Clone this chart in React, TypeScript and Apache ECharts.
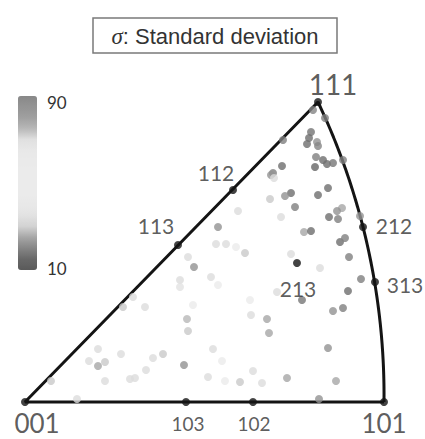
import React, { useEffect, useRef } from "react";
import * as echarts from "echarts";

// ---- data (projection units: 001 at origin, 101 on x axis) ----
const nodeNames = ["001", "103", "102", "101", "113", "112", "111", "212", "313", "213"];
const nodeX = [0, 161, 228, 359, 153, 208, 293, 338, 350, 272];
const nodeY = [0, 0, 0, 0, 157, 212, 300, 175, 120, 139];

const pointX = [
  288, 300, 258, 286, 284, 282, 292, 293, 291, 298, 302, 308, 318, 290, 257, 248, 246, 249,
  303, 293, 266, 260, 245, 270, 256, 317, 312, 304, 313, 335, 279, 286, 315, 320, 324, 266,
  295, 336, 323, 252, 277, 308, 318, 242, 244, 303, 262, 237, 311, 294, 225, 226, 188, 197,
  183, 200, 215, 228, 98, 120, 168, 162, 163, 73, 96, 64, 80, 73, 128, 138, 159, 121, 26,
  80, 105, 110, 52, 155, 155, 193, 108, 213, 193, 191, 201, 211, 220, 163, 169, 186,
];
const pointY = [
  292, 284, 262, 270, 264, 258, 260, 256, 245, 242, 238, 239, 242, 235, 236, 229, 227, 224,
  214, 207, 209, 206, 203, 195, 185, 194, 191, 185, 183, 186, 170, 171, 160, 164, 145, 148,
  134, 123, 111, 110, 102, 91, 94, 83, 69, 54, 24, 19, 21, 3, 102, 87, 53, 41,
  25, 21, 20, 31, 95, 95, 97, 83, 71, 53, 48, 41, 40, 36, 44, 48, 37, 32, 21,
  21, 23, 24, 3, 122, 115, 117, 105, 191, 175, 158, 158, 155, 149, 145, 135, 125,
];
const pointSigma = [
  20, 19, 19, 17, 16, 16, 22, 20, 19, 16, 16, 17.5, 19, 14.5, 16, 19, 22, 33,
  16, 16, 16, 22, 29, 19, 33, 25, 22, 16, 19, 22, 25, 16, 16, 19, 19, 33,
  33, 19, 16, 33, 17.5, 22, 19, 25, 25, 22, 25, 33, 25, 22, 50, 33, 33, 50,
  33, 50, 29, 33, 29, 33, 50, 27, 29, 33, 33, 33, 29, 25, 33, 29, 22, 33, 29,
  33, 33, 33, 33, 33, 35, 50, 33, 33, 22, 33, 33, 50, 29, 33, 22, 33,
];

const sigmaMin = 10;
const sigmaMax = 90;
const sigmaColors = [
  "#5a5a5a", "#686868", "#858585", "#a6a6a6", "#d2d2d2", "#e2e2e2", "#e8e8e8", "#ebebeb",
  "#ebebeb", "#ebebeb", "#eaeaea", "#e8e8e8", "#e0e0e0", "#b8b8b8", "#a0a0a0", "#949494",
  "#888888",
];

const legendTitle = ": Standard deviation";
const legendSymbol = "σ";

// label styling per node: [offsetX, offsetY, fontSize]
const nodeLabelStyle: Record<string, number[]> = {
  "001": [12, 21, 26],
  "103": [2, 21, 19],
  "102": [1, 21, 19],
  "101": [0, 21, 26],
  "113": [-22, -20, 21],
  "112": [-17, -18, 21],
  "111": [15, -18, 28],
  "212": [31, -2, 21],
  "313": [30, 2, 21],
  "213": [1, 25, 21],
};

function circleThrough(p1: number[], p2: number[], p3: number[]) {
  const [x1, y1] = p1, [x2, y2] = p2, [x3, y3] = p3;
  const d = 2 * (x1 * (y2 - y3) + x2 * (y3 - y1) + x3 * (y1 - y2));
  const s1 = x1 * x1 + y1 * y1, s2 = x2 * x2 + y2 * y2, s3 = x3 * x3 + y3 * y3;
  const cx = (s1 * (y2 - y3) + s2 * (y3 - y1) + s3 * (y1 - y2)) / d;
  const cy = (s1 * (x3 - x2) + s2 * (x1 - x3) + s3 * (x2 - x1)) / d;
  return [cx, cy, Math.hypot(x1 - cx, y1 - cy)];
}

export default function App() {
  const ref = useRef<HTMLDivElement>(null);
  useEffect(() => {
    if (!ref.current) return;
    const chart = echarts.init(ref.current, null, { renderer: "svg" });
    const node = (n: string) => {
      const i = nodeNames.indexOf(n);
      return [nodeX[i], nodeY[i]];
    };
    const p001 = node("001"), p101 = node("101"), p111 = node("111"), p212 = node("212");
    const [cx, cy, r] = circleThrough(p111, p212, p101);
    const a0 = Math.atan2(p111[1] - cy, p111[0] - cx);
    const a1 = Math.atan2(p101[1] - cy, p101[0] - cx);
    const frame: number[][] = [p101, p001, p111];
    const steps = 80;
    for (let k = 1; k < steps; k++) {
      const a = a0 + ((a1 - a0) * k) / steps;
      frame.push([cx + r * Math.cos(a), cy + r * Math.sin(a)]);
    }
    frame.push(p101);

    const points = pointX.map((x, i) => [x, pointY[i], pointSigma[i]]);
    const nodes = nodeNames.map((n, i) => {
      const st = nodeLabelStyle[n];
      return {
        value: [nodeX[i], nodeY[i]],
        name: n,
        label: {
          show: true,
          position: "inside",
          offset: [st[0], st[1]],
          fontSize: st[2],
          lineHeight: st[2],
          fontFamily: "Lato",
          color: "#333",
          formatter: n,
        },
      };
    });

    chart.setOption({
      animation: false,
      backgroundColor: "#ffffff",
      grid: { left: 25, top: 102, width: 359, height: 300 },
      xAxis: { type: "value", min: 0, max: 359, show: false },
      yAxis: { type: "value", min: 0, max: 300, show: false },
      visualMap: {
        type: "continuous",
        min: sigmaMin,
        max: sigmaMax,
        dimension: 2,
        seriesIndex: 1,
        orient: "vertical",
        left: 18,
        top: 96,
        itemWidth: 19,
        itemHeight: 174,
        padding: 0,
        calculable: false,
        text: undefined,
        showLabel: false,
        inRange: { color: sigmaColors },
      },
      series: [
        {
          type: "line",
          data: frame,
          symbol: "none",
          clip: false,
          lineStyle: { color: "#141414", width: 3 },
          z: 1,
        },
        {
          type: "scatter",
          data: points,
          symbolSize: 8,
          clip: false,
          z: 2,
        },
        {
          type: "scatter",
          data: nodes,
          symbolSize: 8,
          clip: false,
          itemStyle: { color: "#141414" },
          z: 3,
        },
      ],
      graphic: [
        {
          type: "rect",
          shape: { x: 93, y: 18, width: 244, height: 35 },
          style: { fill: "#fff", stroke: "#7a7a7a", lineWidth: 1.5 },
        },
        {
          type: "text",
          x: 215,
          y: 36,
          style: {
            text: "{s|" + legendSymbol + "}" + legendTitle,
            align: "center",
            verticalAlign: "middle",
            fontFamily: "Liberation Sans",
            fontSize: 22,
            fill: "#333",
            rich: {
              s: { fontFamily: "Liberation Serif", fontStyle: "italic", fontSize: 23, fill: "#333" },
            },
          },
        },
        {
          type: "text",
          x: 47,
          y: 102,
          style: {
            text: String(sigmaMax),
            verticalAlign: "middle",
            fontFamily: "Lato",
            fontSize: 17,
            fill: "#333",
          },
        },
        {
          type: "text",
          x: 47,
          y: 268,
          style: {
            text: String(sigmaMin),
            verticalAlign: "middle",
            fontFamily: "Lato",
            fontSize: 17,
            fill: "#333",
          },
        },
      ],
    });
    return () => chart.dispose();
  }, []);
  return (
    <div
      ref={ref}
      style={{ position: "absolute", left: 0, top: 0, width: 425, height: 439 }}
    />
  );
}
